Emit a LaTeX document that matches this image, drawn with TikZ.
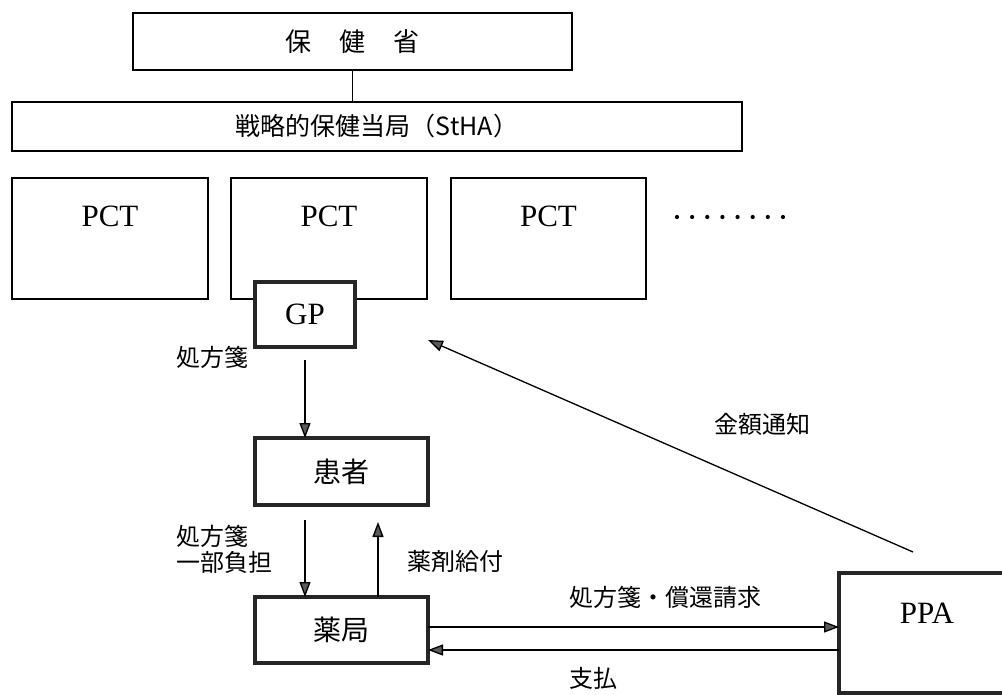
\documentclass[tikz,border=0pt]{standalone}
\usepackage{fontspec}
\setmainfont{Liberation Serif}
\newfontfamily\jp{Noto Sans CJK JP}
\usetikzlibrary{arrows.meta,calc}
\tikzset{
  thinbox/.style={draw=black,line width=1.2pt,fill=white,inner sep=0pt,outer sep=0pt},
  thickbox/.style={draw=black!85,line width=3.2pt,fill=white,inner sep=0pt,outer sep=0pt},
  roman/.style={font=\fontsize{31}{31}\selectfont,inner sep=0pt},
  jbig/.style={font=\jp\fontsize{28}{28}\selectfont,inner sep=0pt},
  jlab/.style={font=\jp\fontsize{24}{26}\selectfont,inner sep=0pt},
  arr/.style={line width=1.3pt,-{Triangle[length=15pt,width=11pt,fill=black!65]}},
  plain/.style={line width=1.3pt}
}
\begin{document}
\begin{tikzpicture}[x=1pt,y=-1pt]
\useasboundingbox[fill=white] (0,0) rectangle (1002,695);
% top
\node[thinbox,minimum width=439pt,minimum height=57pt,font=\jp\fontsize{26}{26}\selectfont] (moh) at (352.5,41.5) {保\hspace{28pt}健\hspace{28pt}省};
\node[thinbox,minimum width=730pt,minimum height=49pt,font=\jp\fontsize{25}{25}\selectfont] (stha) at (377,126.5) {戦略的保健当局（StHA）};
\draw[plain] (moh.south) -- (moh.south |- stha.north);
% PCT row
\node[thinbox,minimum width=196pt,minimum height=121pt] (pct1) at (110,238.5) {};
\node[thinbox,minimum width=196pt,minimum height=121pt] (pct2) at (329,238.5) {};
\node[thinbox,minimum width=195pt,minimum height=121pt] (pct3) at (548.5,238.5) {};
\node[roman] (t1) at (110,216) {PCT};
\node[roman] (t2) at (329,216) {PCT};
\node[roman] (t3) at (548.5,216) {PCT};
\foreach \i in {0,...,7} {\fill (677+15.14*\i,217) circle (2.1pt);}
% GP
\node[thickbox,minimum width=100pt,minimum height=65pt,roman] (gp) at (305,314.5) {GP};
% patient, pharmacy
\node[thickbox,minimum width=173pt,minimum height=67pt,jbig] (kanja) at (341.5,471.5) {患者};
\node[thickbox,minimum width=173pt,minimum height=66pt,jbig] (yak) at (341.5,630) {薬局};
% PPA
\node[thickbox,minimum width=181pt,minimum height=120pt] (ppa) at (929.5,633) {};
\node[roman] (tppa) at (927,613) {PPA};
% arrows
\draw[arr] ([yshift=-13pt]gp.south) -- ([xshift=-36.5pt]kanja.north);
\draw[arr] ([xshift=-36.5pt,yshift=-15pt]kanja.south) -- ([xshift=-36.5pt]yak.north);
\draw[arr] ([xshift=36.5pt]yak.north) -- ([xshift=36.5pt,yshift=-17pt]kanja.south);
\draw[arr] ([yshift=3pt]yak.east) -- ([yshift=3pt]yak.east -| ppa.west);
\draw[arr] ([yshift=-20pt]yak.east -| ppa.west) -- ([yshift=-20pt]yak.east);
\coordinate (kstart) at (913,552);
\coordinate (kend) at (428,340);
\draw[arr] (kstart) -- (kend);
% labels
\node[jlab,anchor=west] (l1) at (176,357) {処方箋};
\node[jlab,anchor=west,align=left] (l2) at (176,549) {処方箋\\一部負担};
\node[jlab,anchor=west] (l3) at (407,561) {薬剤給付};
\node[jlab] (l4) at (665,597) {処方箋・償還請求};
\node[jlab] (l5) at (593,678) {支払};
\node[jlab] (l6) at (762,424) {金額通知};
\end{tikzpicture}
\end{document}
